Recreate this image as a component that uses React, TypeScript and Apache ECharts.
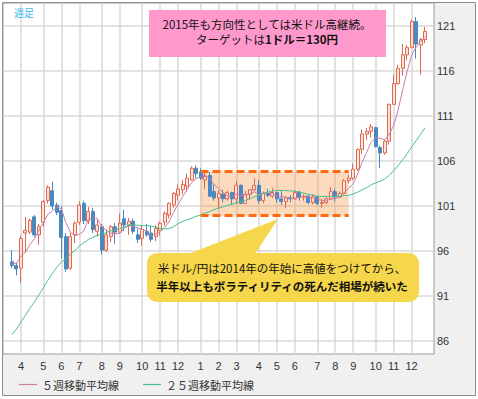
import React, { useEffect, useRef } from 'react';
import * as echarts from 'echarts';

// ---- data (weekly USD/JPY, first week = Monday 2013-03-18) ----
const firstMonday = '2013-03-18';
const padBefore = 2;
const padAfter = 2;

const opens = [
  94.8, 94.4, 94.1, 98.0, 98.1, 99.8, 97.8, 99.2, 101.6, 102.7,
  101.1, 100.5, 97.6, 94.1, 97.8, 99.2, 101.3, 99.3, 100.4, 98.2,
  98.7, 96.1, 97.6, 98.7, 98.1, 99.6, 98.9, 99.3, 97.8, 97.4,
  98.2, 98.0, 97.6, 98.3, 99.2, 100.0, 101.1, 102.2, 102.8, 103.2,
  103.9, 105.2, 104.8, 103.9, 104.4, 102.6, 101.9, 102.3, 101.8, 102.5,
  101.8, 103.3, 101.3, 102.3, 102.8, 103.3, 101.6, 102.4, 102.1, 102.5,
  101.8, 101.5, 101.9, 101.8, 102.5, 102.0, 102.1, 101.4, 102.0, 101.3,
  101.4, 101.8, 102.6, 102.0, 102.4, 103.8, 104.1, 105.1, 107.3, 109.0,
  109.3, 109.7, 107.5, 106.9, 108.2, 112.3, 114.6, 116.3, 117.8, 118.6,
  121.5, 118.9, 119.5,
];
const closes = [
  94.4, 94.0, 97.4, 98.3, 99.4, 97.8, 98.7, 101.5, 103.1, 101.0,
  100.3, 97.5, 94.0, 97.6, 99.1, 101.1, 99.4, 100.4, 98.4, 98.9,
  96.1, 97.8, 98.7, 98.1, 99.1, 98.9, 99.3, 98.2, 97.3, 98.4,
  97.8, 97.3, 98.5, 99.1, 100.2, 101.3, 102.4, 102.9, 103.4, 104.1,
  105.2, 104.6, 104.1, 104.3, 102.1, 101.9, 102.4, 101.8, 102.5, 101.8,
  103.3, 101.3, 102.3, 102.8, 103.3, 101.6, 102.4, 102.2, 102.5, 101.8,
  101.5, 101.9, 101.8, 102.5, 102.0, 102.1, 101.4, 102.0, 101.3, 101.4,
  101.8, 102.6, 102.0, 102.4, 103.8, 104.1, 105.1, 107.3, 109.0, 109.3,
  109.8, 107.6, 106.9, 108.2, 112.3, 114.6, 116.3, 117.8, 118.6, 121.5,
  119.0, 119.5, 120.4,
];
const lows = [
  94.1, 93.3, 92.5, 95.8, 97.9, 97.6, 96.7, 98.7, 101.3, 100.6,
  100.0, 95.2, 93.7, 93.9, 96.9, 98.9, 99.0, 99.0, 98.0, 97.6,
  95.6, 95.9, 97.0, 96.8, 98.0, 98.2, 97.8, 97.9, 96.9, 96.6,
  97.6, 97.0, 97.1, 97.7, 98.8, 99.6, 100.8, 101.6, 102.3, 102.6,
  103.8, 104.1, 103.9, 102.9, 102.0, 101.6, 100.7, 101.4, 101.6, 101.2,
  101.2, 101.2, 101.2, 101.7, 102.7, 101.3, 101.3, 102.0, 101.9, 101.4,
  101.1, 100.8, 101.4, 101.7, 101.6, 101.6, 101.2, 101.2, 101.1, 100.8,
  101.2, 101.7, 101.5, 101.9, 102.3, 103.5, 103.9, 104.9, 106.8, 108.3,
  108.6, 107.5, 105.2, 106.7, 107.8, 112.3, 114.5, 115.5, 117.2, 118.6,
  117.4, 115.6, 119.1,
];
const highs = [
  96.1, 94.7, 97.7, 99.8, 99.6, 100.0, 99.0, 101.7, 103.3, 103.7,
  101.4, 101.0, 98.0, 98.0, 99.3, 101.5, 101.6, 100.9, 100.8, 99.5,
  99.0, 98.4, 98.9, 99.1, 100.2, 100.6, 99.7, 99.6, 98.5, 98.8,
  99.0, 98.8, 98.9, 99.3, 100.4, 101.4, 102.6, 103.4, 103.9, 104.6,
  105.4, 105.5, 105.2, 104.9, 104.8, 103.4, 102.7, 102.8, 102.7, 102.6,
  103.8, 103.4, 102.7, 102.9, 104.1, 103.9, 102.6, 102.9, 103.0, 102.6,
  102.7, 102.0, 102.2, 102.8, 102.7, 102.3, 102.2, 102.3, 102.1, 101.8,
  102.0, 103.1, 102.9, 102.6, 104.0, 104.5, 105.7, 107.4, 109.5, 109.7,
  110.1, 109.8, 107.7, 108.4, 112.4, 115.6, 116.7, 119.0, 118.9, 121.7,
  122.0, 119.7, 120.9,
];
// weekly closes of the 24 weeks before the first drawn week (feed the moving averages)
const priorCloses = [
  78.7, 78.4, 79.3, 79.6, 80.4, 79.5, 81.3, 82.4, 82.5, 82.4, 83.5, 84.2,
  85.9, 88.2, 89.2, 90.1, 90.9, 92.8, 92.7, 93.5, 93.4, 93.6, 96.0, 95.3,
];

const yTicks = [86, 91, 96, 101, 106, 111, 116, 121];
const yMin = 84.56;
const yMax = 123.56;

const maNames = ['５週移動平均線', '２５週移動平均線'];
const maPeriods = [5, 25];
const maColors = ['#c97ea6', '#45c38a'];

const chartTag = '週足';
const note1Line1 = '2015年も方向性としては米ドル高継続。';
const note1Line2a = 'ターゲットは';
const note1Line2b = '1ドル＝130円';
const note2Line1 = '米ドル/円は2014年の年始に高値をつけてから、';
const note2Line2 = '半年以上もボラティリティの死んだ相場が続いた';

const rangeBox = { from: '2014/01/06', to: '2014/08/25', low: 99.93, high: 104.83 };

// ---- derived ----
function buildWeeks(): string[] {
  const [y, m, d] = firstMonday.split('-').map(Number);
  const wk = 7 * 86400000;
  const start = Date.UTC(y, m - 1, d) - padBefore * wk;
  const out: string[] = [];
  const n = padBefore + opens.length + padAfter;
  for (let k = 0; k < n; k++) {
    const t = new Date(start + k * wk);
    out.push(
      `${t.getUTCFullYear()}/${String(t.getUTCMonth() + 1).padStart(2, '0')}/${String(t.getUTCDate()).padStart(2, '0')}`
    );
  }
  return out;
}

const weeks = buildWeeks();
const isMonthStart = weeks.map((w, k) => {
  const i = k - padBefore;
  if (i < 0 || i >= opens.length) return false;
  return Number(w.slice(8, 10)) <= 7;
});

const candleData = weeks.map((_, k) => {
  const i = k - padBefore;
  if (i < 0 || i >= opens.length) return '-';
  return [opens[i], closes[i], lows[i], highs[i]];
});

const allCloses = priorCloses.concat(closes);
function movingAverage(p: number) {
  return weeks.map((_, k) => {
    const i = k - padBefore;
    if (i < 0 || i >= closes.length) return '-';
    const idx = i + priorCloses.length;
    let s = 0;
    for (let j = idx - p + 1; j <= idx; j++) s += allCloses[j];
    return +(s / p).toFixed(3);
  });
}

const jp = 'Noto Sans CJK JP';

export default function App() {
  const ref = useRef<HTMLDivElement>(null);
  useEffect(() => {
    const chart = echarts.init(ref.current!, null, { renderer: 'svg' });
    const option: any = {
      animation: false,
      backgroundColor: '#ffffff',
      textStyle: { fontFamily: 'Liberation Sans' },
      grid: {
        left: 3,
        top: 3,
        width: 431,
        height: 351,
        show: true,
        backgroundColor: '#ffffff',
        borderColor: '#9a9a9a',
        borderWidth: 1,
      },
      legend: {
        left: 14,
        top: 374,
        icon: 'rect',
        itemWidth: 18,
        itemHeight: 1.2,
        itemGap: 24,
        data: maNames,
        textStyle: { fontFamily: jp, fontSize: 11, color: '#333' },
      },
      xAxis: {
        type: 'category',
        data: weeks,
        boundaryGap: false,
        axisLine: { show: false },
        axisTick: { show: false },
        axisLabel: {
          interval: (k: number) => isMonthStart[k],
          formatter: (v: string) => String(Number(v.slice(5, 7))),
          color: '#333',
          fontSize: 11,
          margin: 6,
          fontFamily: 'Liberation Sans',
        },
        splitLine: {
          show: true,
          interval: (k: number) => isMonthStart[k],
          lineStyle: { color: '#d9d9d9', width: 1.5 },
        },
      },
      yAxis: {
        type: 'value',
        position: 'right',
        min: yMin,
        max: yMax,
        scale: true,
        axisLine: { show: false },
        axisTick: { show: false, customValues: yTicks },
        axisLabel: {
          customValues: yTicks,
          color: '#333',
          fontSize: 11,
          margin: 3,
          fontFamily: 'Liberation Sans',
        },
        splitLine: { show: true, lineStyle: { color: '#d9d9d9', width: 1.5 } },
      },
      series: [
        {
          type: 'candlestick',
          name: 'USD/JPY',
          data: candleData,
          barWidth: 3.5,
          itemStyle: {
            color: '#fce4dc',
            color0: '#4a88c2',
            borderColor: '#e0694f',
            borderColor0: '#4a88c2',
            borderWidth: 1,
          },
          markArea: {
            silent: true,
            itemStyle: { color: 'rgba(247,150,70,0.35)' },
            data: [[{ coord: [rangeBox.from, rangeBox.high] }, { coord: [rangeBox.to, rangeBox.low] }]],
          },
          markLine: {
            silent: true,
            symbol: ['none', 'none'],
            label: { show: false },
            lineStyle: { type: [8, 4], width: 3, color: '#ff6a10' },
            data: [
              [{ coord: [rangeBox.from, rangeBox.high] }, { coord: [rangeBox.to, rangeBox.high] }],
              [{ coord: [rangeBox.from, rangeBox.low] }, { coord: [rangeBox.to, rangeBox.low] }],
            ],
          },
        },
        ...maPeriods.map((p, j) => ({
          type: 'line',
          name: maNames[j],
          data: movingAverage(p),
          symbol: 'none',
          showSymbol: false,
          lineStyle: { color: maColors[j], width: 1 },
          itemStyle: { color: maColors[j] },
          z: 3,
        })),
      ],
      graphic: [
        {
          type: 'rect',
          z: -1,
          silent: true,
          shape: { x: 2.5, y: 2.5, width: 473, height: 393 },
          style: { fill: '#f0f0f0', stroke: '#8c8c8c', lineWidth: 1 },
        },
        {
          type: 'text',
          z: 50,
          x: 14,
          y: 12,
          style: { text: chartTag, fill: '#3bb8ee', fontSize: 10, fontFamily: jp, verticalAlign: 'middle' },
        },
        {
          type: 'rect',
          z: 50,
          shape: { x: 149, y: 10, width: 237, height: 47 },
          style: { fill: '#ff99cc' },
        },
        {
          type: 'text',
          z: 51,
          x: 267,
          y: 24,
          style: {
            text: note1Line1,
            fill: '#111',
            fontSize: 11.5,
            fontFamily: jp,
            align: 'center',
            verticalAlign: 'middle',
          },
        },
        {
          type: 'text',
          z: 51,
          x: 267,
          y: 38.5,
          style: {
            text: `{a|${note1Line2a}}{b|${note1Line2b}}`,
            align: 'center',
            verticalAlign: 'middle',
            rich: {
              a: { fill: '#111', color: '#111', fontSize: 11.5, fontFamily: jp },
              b: { fill: '#111', color: '#111', fontSize: 11.5, fontFamily: jp, fontWeight: 'bold' },
            },
          },
        },
        {
          type: 'polygon',
          z: 50,
          shape: { points: [[278, 219], [173, 260], [251, 260]] },
          style: { fill: '#f6d64a' },
        },
        {
          type: 'rect',
          z: 50,
          shape: { x: 147, y: 253, width: 272, height: 49, r: 10 },
          style: { fill: '#f6d64a' },
        },
        {
          type: 'text',
          z: 51,
          x: 282,
          y: 268,
          style: {
            text: note2Line1,
            fill: '#111',
            fontSize: 11.5,
            fontFamily: jp,
            align: 'center',
            verticalAlign: 'middle',
          },
        },
        {
          type: 'text',
          z: 51,
          x: 282,
          y: 286,
          style: {
            text: note2Line2,
            fill: '#111',
            fontSize: 11.5,
            fontWeight: 'bold',
            fontFamily: jp,
            align: 'center',
            verticalAlign: 'middle',
          },
        },
      ],
    };
    chart.setOption(option);
    return () => chart.dispose();
  }, []);
  return (
    <div
      ref={ref}
      style={{ position: 'absolute', left: 0, top: 0, width: 478, height: 399 }}
    />
  );
}
